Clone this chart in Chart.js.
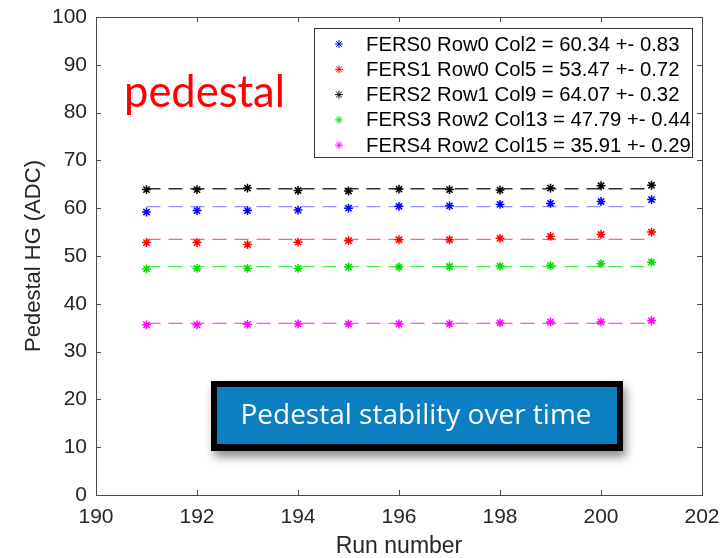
<!DOCTYPE html>
<html>
<head>
<meta charset="utf-8">
<script src="https://cdn.jsdelivr.net/npm/chart.js@4/dist/chart.umd.min.js"></script>
<style>
  html, body { margin: 0; padding: 0; background: #ffffff; }
  #wrap { width: 724px; height: 558px; position: relative; }
</style>
</head>
<body>
<div id="wrap"><canvas id="c" width="724" height="558"></canvas></div>
<script>
// ---- data ----
const runs = [191, 192, 193, 194, 195, 196, 197, 198, 199, 200, 201];
const fers0 = [59.2, 59.5, 59.5, 59.6, 60.0, 60.4, 60.5, 60.8, 61.0, 61.4, 61.8];
const fers1 = [52.8, 52.8, 52.4, 52.9, 53.2, 53.4, 53.4, 53.7, 54.1, 54.5, 55.0];
const fers2 = [63.9, 63.9, 64.2, 63.7, 63.6, 64.0, 63.9, 63.8, 64.2, 64.7, 64.8];
const fers3 = [47.3, 47.4, 47.4, 47.4, 47.7, 47.7, 47.8, 47.9, 48.0, 48.4, 48.7];
const fers4 = [35.6, 35.6, 35.7, 35.8, 35.8, 35.8, 35.8, 36.0, 36.2, 36.2, 36.5];
const seriesNames = ["FERS0 Row0 Col2", "FERS1 Row0 Col5", "FERS2 Row1 Col9", "FERS3 Row2 Col13", "FERS4 Row2 Col15"];
const means = [60.34, 53.47, 64.07, 47.79, 35.91];
const errors = [0.83, 0.72, 0.32, 0.44, 0.29];
const xTicks = [190, 192, 194, 196, 198, 200, 202];
const yTicks = [0, 10, 20, 30, 40, 50, 60, 70, 80, 90, 100];

const seriesValues = [fers0, fers1, fers2, fers3, fers4];
const markerColors = ["#0000ff", "#ff0000", "#000000", "#00e000", "#ff00ff"];
const lineColors = ["rgba(60,60,255,0.55)", "rgba(255,40,40,0.7)", "rgba(0,0,0,0.8)", "rgba(0,230,0,0.7)", "rgba(255,0,255,0.7)"];
const FONT = "'Liberation Sans', Arial, Helvetica, sans-serif";
const AXIS_COLOR = "#4a4a4a";
const TEXT_COLOR = "#262626";

const legendLabels = seriesNames.map((n, i) => n + " = " + means[i].toFixed(2) + " +- " + errors[i].toFixed(2));

const datasets = [];
seriesValues.forEach((vals, i) => {
  datasets.push({
    label: legendLabels[i],
    type: 'scatter',
    data: runs.map((r, k) => ({ x: r, y: vals[k] })),
    showLine: false,
    pointStyle: 'star',
    pointRadius: 4.4,
    pointHoverRadius: 4.4,
    pointBorderWidth: 1.5,
    borderColor: markerColors[i],
    backgroundColor: markerColors[i],
    order: 1
  });
});
seriesValues.forEach((vals, i) => {
  datasets.push({
    label: 'mean ' + i,
    type: 'line',
    data: [{ x: runs[0], y: means[i] }, { x: runs[runs.length - 1], y: means[i] }],
    borderColor: lineColors[i],
    borderWidth: 1.3,
    borderDash: [14, 8],
    pointRadius: 0,
    fill: false,
    order: 2
  });
});

const decorPlugin = {
  id: 'decor',
  afterDraw(chart) {
    const ctx = chart.ctx;
    const ca = chart.chartArea;
    const xs = chart.scales.x, ys = chart.scales.y;
    ctx.save();
    // axes box
    ctx.strokeStyle = AXIS_COLOR;
    ctx.lineWidth = 1;
    ctx.strokeRect(Math.round(ca.left) + 0.5, Math.round(ca.top) + 0.5, Math.round(ca.right - ca.left), Math.round(ca.bottom - ca.top));
    // inward ticks
    const tl = 5;
    ctx.beginPath();
    xTicks.forEach(v => {
      const px = Math.round(xs.getPixelForValue(v)) + 0.5;
      ctx.moveTo(px, ca.bottom); ctx.lineTo(px, ca.bottom - tl);
      ctx.moveTo(px, ca.top); ctx.lineTo(px, ca.top + tl);
    });
    yTicks.forEach(v => {
      const py = Math.round(ys.getPixelForValue(v)) + 0.5;
      ctx.moveTo(ca.left, py); ctx.lineTo(ca.left + tl, py);
      ctx.moveTo(ca.right, py); ctx.lineTo(ca.right - tl, py);
    });
    ctx.stroke();

    // legend box
    const lx = 314, ly = 28, lw = 378, lh = 129;
    ctx.fillStyle = '#ffffff';
    ctx.fillRect(lx, ly, lw, lh);
    ctx.strokeStyle = '#333333';
    ctx.strokeRect(lx + 0.5, ly + 0.5, lw, lh);
    ctx.font = "20.3px " + FONT;
    ctx.textBaseline = 'middle';
    ctx.textAlign = 'left';
    legendLabels.forEach((lab, i) => {
      const yy = 44 + i * 25.3;
      ctx.strokeStyle = markerColors[i];
      ctx.fillStyle = markerColors[i];
      Chart.helpers.drawPoint(ctx, { pointStyle: 'star', radius: 4, borderWidth: 1.2 }, 339, yy);
      ctx.fillStyle = '#000000';
      ctx.fillText(lab, 366, yy + 1);
    });

    // "pedestal" label
    ctx.fillStyle = '#ff0000';
    ctx.textBaseline = 'alphabetic';
    let fs = 44;
    ctx.font = fs + "px Lato, 'Open Sans', sans-serif";
    const w0 = ctx.measureText('pedestal').width;
    fs = Math.min(48, fs * 161 / w0);
    ctx.font = fs + "px Lato, 'Open Sans', sans-serif";
    ctx.fillText('pedestal', 124, 107);

    // annotation box with shadow
    ctx.save();
    ctx.shadowColor = 'rgba(0,0,0,0.45)';
    ctx.shadowBlur = 9;
    ctx.shadowOffsetX = 3;
    ctx.shadowOffsetY = 6;
    ctx.fillStyle = '#000000';
    ctx.fillRect(211, 381, 412, 70);
    ctx.restore();
    ctx.fillStyle = '#0b7fc1';
    ctx.fillRect(217, 387, 400, 57);
    ctx.fillStyle = '#ffffff';
    let fs2 = 25;
    ctx.font = fs2 + "px 'Open Sans', Lato, sans-serif";
    const w1 = ctx.measureText('Pedestal stability over time').width;
    fs2 = Math.min(28, fs2 * 373 / w1);
    ctx.font = fs2 + "px 'Open Sans', Lato, sans-serif";
    ctx.textBaseline = 'middle';
    ctx.textAlign = 'center';
    ctx.fillText('Pedestal stability over time', 416, 416);
    ctx.restore();
  }
};

new Chart(document.getElementById('c'), {
  type: 'scatter',
  data: { datasets },
  options: {
    responsive: false,
    animation: false,
    devicePixelRatio: 1,
    layout: { padding: { top: 17, right: 22, left: 0, bottom: 0 } },
    plugins: { legend: { display: false }, tooltip: { enabled: false }, title: { display: false } },
    scales: {
      x: {
        type: 'linear',
        min: 190, max: 202,
        afterBuildTicks: (s) => { s.ticks = xTicks.map(v => ({ value: v })); },
        afterFit: (s) => { s.height = 63; s.paddingLeft = 0; s.paddingRight = 0; },
        grid: { display: false, drawTicks: false },
        border: { display: false },
        ticks: { color: TEXT_COLOR, font: { family: FONT, size: 21 }, padding: 10, maxRotation: 0, autoSkip: false },
        title: { display: true, text: 'Run number', color: TEXT_COLOR, font: { family: FONT, size: 23, lineHeight: 0.95 }, padding: { top: 0, bottom: 0 } }
      },
      y: {
        type: 'linear',
        min: 0, max: 100,
        afterBuildTicks: (s) => { s.ticks = yTicks.map(v => ({ value: v })); },
        afterFit: (s) => { s.width = 96; s.paddingTop = 0; s.paddingBottom = 0; },
        grid: { display: false, drawTicks: false },
        border: { display: false },
        ticks: { color: TEXT_COLOR, font: { family: FONT, size: 21 }, padding: 9, autoSkip: false },
        title: { display: true, text: 'Pedestal HG (ADC)', color: TEXT_COLOR, font: { family: FONT, size: 22 }, padding: { top: 21, bottom: 0 } }
      }
    }
  },
  plugins: [decorPlugin]
});
</script>
</body>
</html>
